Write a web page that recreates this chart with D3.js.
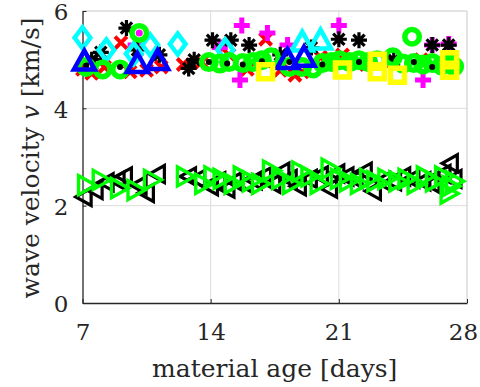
<!DOCTYPE html>
<html><head><meta charset="utf-8">
<script src="https://cdn.jsdelivr.net/npm/d3@7"></script>
<style>body{margin:0;background:#fff}svg{display:block}</style>
</head><body><svg id="c" width="480" height="387"></svg>
<script>
const xTicks=[7,14,21,28];
const yTicks=[0,2,4,6];
// series: [day, velocity]
const redCross=[[7.0,4.8],[7.5,4.72],[8.2,4.85],[9.1,5.35],[9.6,4.75],[10.5,4.78],[11.3,4.85],[12.5,4.9],[13.5,4.95],[15.0,5.1],[16.0,4.8],[17.0,5.42],[17.8,4.78],[18.6,4.68],[19.0,4.75],[20.0,5.05],[21.2,5.1],[22.5,4.9],[24.0,4.95],[25.5,5.0],[27.0,5.05]];
const magentaPlus=[[9.9,5.3],[15.7,5.7],[15.6,4.58],[17.1,5.55],[21.0,5.7],[25.6,4.58],[26.1,5.3],[27.0,5.32],[18.2,5.3],[14.5,5.25]];
const blackStar=[[9.4,5.65],[8.0,5.15],[10.0,5.2],[7.5,5.0],[11.2,5.1],[12.8,4.82],[13.1,5.0],[14.1,5.4],[15.1,5.4],[16.1,5.3],[17.8,5.1],[19.5,5.25],[21.0,5.42],[22.1,5.4],[24.0,5.0],[26.1,5.3],[27.0,5.3]];
const cyanDiamond=[[7.0,5.45],[8.3,5.2],[9.8,5.12],[10.7,5.3],[12.2,5.32],[14.8,5.2]];
const cyanTri=[[19.0,5.36],[20.0,5.4]];
const greenCircle=[[7.2,4.85],[8.1,4.8],[9.05,4.8],[10.1,5.55],[13.9,4.95],[14.5,4.92],[15.0,4.95],[15.75,4.93],[16.3,4.95],[16.8,4.99],[17.3,5.05],[18.3,4.85],[19.0,4.85],[19.6,4.82],[20.1,4.93],[20.6,4.95],[21.05,4.99],[21.6,4.95],[22.1,4.99],[22.6,4.95],[23.1,4.99],[23.95,5.05],[24.5,4.92],[25.0,5.47],[25.1,4.93],[25.6,4.9],[26.1,4.93],[26.6,4.88],[27.0,4.93],[27.3,4.86]];
const blackDot=[[7.2,4.88],[9.05,4.85],[13.9,4.95],[14.9,4.92],[15.75,4.9],[16.8,4.97],[17.3,4.88],[18.3,4.95],[20.1,4.9],[22.1,4.95],[25.1,4.95],[26.1,4.85]];
const magentaDot=[[10.1,5.55]];
const blueTri=[[7.1,4.97],[10.0,4.92],[11.1,4.98],[18.2,5.0],[19.1,5.05]];
const yellowSquare=[[17.0,4.75],[21.2,4.79],[23.1,4.97],[23.1,4.75],[24.2,4.68],[27.05,5.0],[27.05,4.78]];
const blackLeftTri=[[7.1,2.18],[7.7,2.32],[8.3,2.48],[8.9,2.52],[9.3,2.6],[10.1,2.42],[10.5,2.26],[11.1,2.65],[12.8,2.6],[13.3,2.55],[14.0,2.4],[14.4,2.5],[14.9,2.35],[15.3,2.5],[15.9,2.45],[16.4,2.52],[16.9,2.6],[17.4,2.45],[17.9,2.7],[18.3,2.55],[18.8,2.4],[19.4,2.55],[20.0,2.62],[20.5,2.35],[20.9,2.66],[21.4,2.6],[21.9,2.55],[22.4,2.7],[22.9,2.3],[23.4,2.5],[24.0,2.5],[24.5,2.6],[25.0,2.55],[25.6,2.5],[26.1,2.45],[26.7,2.65],[27.1,2.87],[27.3,2.55]];
const greenRightTri=[[7.2,2.42],[8.0,2.53],[9.0,2.36],[9.9,2.32],[10.8,2.53],[12.6,2.6],[13.6,2.45],[14.1,2.6],[14.6,2.55],[15.2,2.45],[15.7,2.6],[16.2,2.5],[16.7,2.45],[17.3,2.72],[17.8,2.55],[18.4,2.45],[18.9,2.7],[19.4,2.6],[19.9,2.45],[20.5,2.76],[21.0,2.55],[21.5,2.5],[22.1,2.45],[22.6,2.55],[23.0,2.5],[23.6,2.55],[24.2,2.5],[24.7,2.55],[25.2,2.45],[25.7,2.6],[26.2,2.5],[26.7,2.6],[27.1,2.4],[27.3,2.5],[27.0,2.25]];

const FONT="DejaVu Serif";
const svg=d3.select("#c");
const L=82.5,R=467,T=11,B=303;
const x=d3.scaleLinear().domain([7,28]).range([L,R]);
const y=d3.scaleLinear().domain([0,6]).range([B,T]);

const g=svg.append("g");
g.selectAll(".gx").data(xTicks.slice(1,-1)).join("line").attr("x1",d=>x(d)).attr("x2",d=>x(d)).attr("y1",T).attr("y2",B).attr("stroke","#dcdcdc").attr("stroke-width",1);
g.selectAll(".gy").data(yTicks.slice(1,-1)).join("line").attr("x1",L).attr("x2",R).attr("y1",d=>y(d)).attr("y2",d=>y(d)).attr("stroke","#dcdcdc").attr("stroke-width",1);
g.append("line").attr("x1",L).attr("x2",R).attr("y1",T).attr("y2",T).attr("stroke","#c8c8c8");
g.append("line").attr("x1",R).attr("x2",R).attr("y1",T).attr("y2",B).attr("stroke","#c8c8c8");

const xa=svg.append("g").attr("transform",`translate(0,${B})`).call(d3.axisBottom(x).tickValues(xTicks).tickFormat(d3.format("d")).tickSizeInner(-4).tickSizeOuter(0).tickPadding(21));
const ya=svg.append("g").attr("transform",`translate(${L},0)`).call(d3.axisLeft(y).tickValues(yTicks).tickFormat(d3.format("d")).tickSizeInner(-4).tickSizeOuter(0).tickPadding(14));
[xa,ya].forEach(a=>{a.attr("font-family",FONT).attr("font-size",23);a.select(".domain").attr("stroke","#262626").attr("stroke-width",1.3);a.selectAll(".tick line").attr("stroke","#262626");a.selectAll("text").attr("fill","#262626");});
ya.selectAll("text").attr("dy","0.38em");
xa.selectAll(".tick text").filter(d=>d===28).attr("dx","-4");

function sym(type,s){
  const h=s/2;
  switch(type){
    case "plus": return `M0,${-h}V${h}M${-h},0H${h}`;
    case "cross": return `M${-h},${-h}L${h},${h}M${-h},${h}L${h},${-h}`;
    case "star": {const d=h*0.707;return `M0,${-h}V${h}M${-h},0H${h}M${-d},${-d}L${d},${d}M${-d},${d}L${d},${-d}`;}
    case "diamond": return `M0,${-h}L${h*0.75},0L0,${h}L${-h*0.75},0Z`;
    case "square": return `M${-h},${-h}H${h}V${h}H${-h}Z`;
    case "triUp": return `M0,${-h}L${h},${h*0.8}L${-h},${h*0.8}Z`;
    case "triLeft": return `M${-h},0L${h*0.8},${-h}L${h*0.8},${h}Z`;
    case "triRight": return `M${h},0L${-h*0.8},${-h}L${-h*0.8},${h}Z`;
  }
}
function circ(r){return `M${r},0A${r},${r} 0 1,1 ${-r},0A${r},${r} 0 1,1 ${r},0Z`;}
const layers=[
  {data:redCross,type:"cross",s:12,stroke:"#ff0000",sw:4},
  {data:magentaPlus,type:"plus",s:16,stroke:"#ff00ff",sw:5},
  {data:blackStar,type:"star",s:16,stroke:"#000",sw:3.2},
  {data:cyanDiamond,type:"diamond",s:21,stroke:"#00ffff",sw:4.5},
  {data:cyanTri,type:"triUp",s:21,stroke:"#00ffff",sw:4.5},
  {data:greenCircle,type:"circ",s:14.5,stroke:"#00ff00",sw:5.5},
  {data:blackDot,type:"dot",s:6,fill:"#000"},
  {data:magentaDot,type:"dot",s:7,fill:"#ff00ff"},
  {data:blueTri,type:"triUp",s:21,stroke:"#0000ff",sw:4.5},
  {data:yellowSquare,type:"square",s:14,stroke:"#ffff00",sw:5.5},
  {data:blackLeftTri,type:"triLeft",s:17,stroke:"#000",sw:3.2},
  {data:greenRightTri,type:"triRight",s:19,stroke:"#00ff00",sw:3.4}
];
const mk=svg.append("g");
layers.forEach(l=>{
  const sel=mk.append("g").selectAll("path").data(l.data).join("path")
    .attr("transform",d=>`translate(${x(d[0])},${y(d[1])})`);
  if(l.type==="dot") sel.attr("d",circ(l.s/2)).attr("fill",l.fill);
  else if(l.type==="circ") sel.attr("d",circ(l.s/2)).attr("fill","none").attr("stroke",l.stroke).attr("stroke-width",l.sw);
  else sel.attr("d",sym(l.type,l.s)).attr("fill","none").attr("stroke",l.stroke).attr("stroke-width",l.sw).attr("stroke-linejoin","miter");
});

svg.append("text").attr("x",(L+R)/2).attr("y",377).attr("text-anchor","middle").attr("font-family",FONT).attr("font-size",25).attr("fill","#262626").text("material age [days]");
const yl=svg.append("text").attr("transform","translate(39,158) rotate(-90)").attr("text-anchor","middle").attr("font-family",FONT).attr("font-size",25).attr("fill","#262626");
yl.append("tspan").text("wave velocity ");
yl.append("tspan").attr("font-style","italic").text("v");
yl.append("tspan").text(" [km/s]");
</script></body></html>
